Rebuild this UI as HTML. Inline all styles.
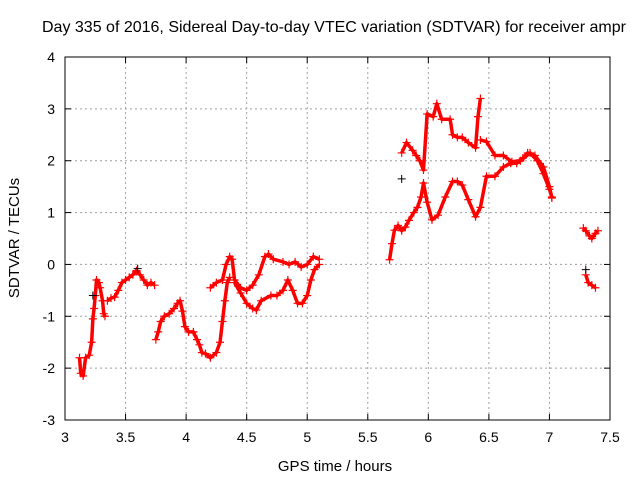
<!DOCTYPE html>
<html><head><meta charset="utf-8"><style>
body{margin:0;background:#fff;}
svg{display:block;font-family:"Liberation Sans",sans-serif;font-size:14px;}
</style></head><body>
<svg id="chart" width="640" height="480">
<text x="42" y="32" font-size="16">Day 335 of 2016, Sidereal Day-to-day VTEC variation (SDTVAR) for receiver ampr</text>
<g id="grid"></g>
<g id="ticks"></g>
<g id="marks"></g>
<rect x="65" y="57" width="545" height="363" fill="none" stroke="#000" stroke-width="1"/>
<text x="335" y="471" text-anchor="middle" font-size="15">GPS time / hours</text>
<text transform="translate(19,238) rotate(-90)" text-anchor="middle" font-size="15">SDTVAR / TECUs</text>
</svg>
<script>
const xTicks=[3,3.5,4,4.5,5,5.5,6,6.5,7,7.5];
const xTickLabels=["3","3.5","4","4.5","5","5.5","6","6.5","7","7.5"];
const yTicks=[-3,-2,-1,0,1,2,3,4];
const yTickLabels=["-3","-2","-1","0","1","2","3","4"];
const t1Hours=[3.12,3.13,3.15,3.17,3.2,3.22,3.23,3.24,3.25,3.26,3.28,3.29,3.31,3.32,3.33];
const t1Vals=[-1.8,-2.1,-2.15,-1.8,-1.75,-1.5,-1.05,-0.85,-0.6,-0.3,-0.35,-0.45,-0.7,-0.95,-1.0];
const t2Hours=[3.35,3.38,3.41,3.44,3.47,3.5,3.53,3.56,3.59,3.62,3.65,3.68,3.71,3.74];
const t2Vals=[-0.7,-0.65,-0.63,-0.5,-0.35,-0.3,-0.25,-0.2,-0.12,-0.2,-0.3,-0.4,-0.35,-0.4];
const t3Hours=[3.75,3.77,3.79,3.82,3.86,3.9,3.93,3.95,3.97,3.99,4.02,4.06,4.09,4.11,4.13,4.16,4.2,4.25,4.28,4.3,4.32,4.34,4.36];
const t3Vals=[-1.45,-1.3,-1.1,-1.0,-0.95,-0.85,-0.75,-0.7,-0.9,-1.2,-1.3,-1.3,-1.45,-1.55,-1.7,-1.72,-1.8,-1.7,-1.5,-1.1,-0.7,-0.35,-0.25];
const t4Hours=[4.2,4.25,4.3,4.33,4.36,4.38,4.4,4.45,4.5,4.55,4.6,4.65,4.68,4.72,4.8,4.85,4.9,4.95,5.0,5.05,5.1];
const t4Vals=[-0.45,-0.35,-0.3,0.0,0.15,0.1,-0.3,-0.45,-0.5,-0.4,-0.2,0.15,0.2,0.1,0.05,0.0,0.05,-0.05,0.0,0.15,0.1];
const t5Hours=[4.4,4.45,4.5,4.55,4.58,4.62,4.7,4.75,4.8,4.84,4.88,4.92,4.96,5.0,5.03,5.06,5.1];
const t5Vals=[-0.35,-0.55,-0.75,-0.85,-0.88,-0.7,-0.6,-0.6,-0.5,-0.3,-0.5,-0.75,-0.75,-0.6,-0.3,-0.1,0.0];
const t6Hours=[5.68,5.7,5.72,5.75,5.78,5.81,5.84,5.88,5.91,5.94,5.96,5.99,6.03,6.08,6.14,6.2,6.24,6.28,6.33,6.39,6.43,6.48,6.55,6.62,6.68,6.73,6.78,6.82,6.88,6.95,7.0,7.02];
const t6Vals=[0.09,0.4,0.66,0.75,0.65,0.72,0.85,1.0,1.1,1.3,1.57,1.2,0.86,0.95,1.3,1.6,1.6,1.53,1.25,0.92,1.1,1.7,1.7,1.88,1.95,1.95,2.05,2.15,2.1,1.88,1.5,1.28];
const t7Hours=[5.78,5.82,5.87,5.9,5.93,5.96,5.99,6.04,6.07,6.11,6.18,6.2,6.24,6.28,6.33,6.39,6.41,6.43];
const t7Vals=[2.15,2.35,2.2,2.1,2.0,1.82,2.9,2.85,3.1,2.8,2.8,2.5,2.45,2.45,2.35,2.25,2.85,3.2];
const t8Hours=[6.43,6.48,6.55,6.62,6.69,6.76,6.84,6.9,6.95,7.0,7.02];
const t8Vals=[2.4,2.37,2.1,2.1,1.98,2.0,2.15,2.0,1.75,1.45,1.3];
const t9Hours=[7.28,7.3,7.33,7.35,7.38,7.4];
const t9Vals=[0.7,0.65,0.55,0.5,0.6,0.65];
const t10Hours=[7.3,7.32,7.35,7.38];
const t10Vals=[-0.2,-0.35,-0.4,-0.45];
const blackHours=[3.23,3.6,5.78,7.3];
const blackVals=[-0.6,-0.08,1.65,-0.1];

const L=65,R=610,T=57,B=420;
const xs=h=>L+(h-3)/4.5*(R-L);
const ys=v=>T+(4-v)/7*(B-T);
const NS="http://www.w3.org/2000/svg";
const grid=document.getElementById('grid'),ticks=document.getElementById('ticks'),marks=document.getElementById('marks');
function mk(tag,attrs,parent){const e=document.createElementNS(NS,tag);for(const k in attrs)e.setAttribute(k,attrs[k]);parent.appendChild(e);return e;}
xTicks.forEach((t,i)=>{const x=xs(t);
 if(i>0&&i<xTicks.length-1){const g=mk('line',{x1:x,x2:x,y1:T,y2:B,stroke:'#a0a0a0','stroke-dasharray':'2,3'},grid);
 
 }
 mk('line',{x1:x,x2:x,y1:B,y2:B-6,stroke:'#000'},ticks);mk('line',{x1:x,x2:x,y1:T,y2:T+6,stroke:'#000'},ticks);
 const tx=mk('text',{x:x,y:B+22,'text-anchor':'middle'},ticks);tx.textContent=xTickLabels[i];
 
 });
yTicks.forEach((t,i)=>{const y=ys(t);
 if(i>0&&i<yTicks.length-1){const g=mk('line',{x1:L,x2:R,y1:y,y2:y,stroke:'#a0a0a0','stroke-dasharray':'2,3'},grid);
 
 }
 mk('line',{x1:L,x2:L+6,y1:y,y2:y,stroke:'#000'},ticks);mk('line',{x1:R,x2:R-6,y1:y,y2:y,stroke:'#000'},ticks);
 const tx=mk('text',{x:L-10,y:y+5,'text-anchor':'end'},ticks);tx.textContent=yTickLabels[i];
 
 });
const tracks=[[t1Hours,t1Vals],[t2Hours,t2Vals],[t3Hours,t3Vals],[t4Hours,t4Vals],[t5Hours,t5Vals],[t6Hours,t6Vals],[t7Hours,t7Vals],[t8Hours,t8Vals],[t9Hours,t9Vals],[t10Hours,t10Vals]];
tracks.forEach(([hs,vs])=>{
 const pl=mk('polyline',{points:hs.map((h,i)=>xs(h)+','+ys(vs[i])).join(' '),fill:'none',stroke:'#f00','stroke-width':3.5,'stroke-linejoin':'round'},marks);
 
 
 hs.forEach((h,i)=>{const x=xs(h),y=ys(vs[i]);
  const p=mk('path',{d:`M${x-4},${y}H${x+4}M${x},${y-4}V${y+4}`,stroke:'#f00','stroke-width':1.2},marks);
  
  });
});
blackHours.forEach((h,i)=>{const x=xs(h),y=ys(blackVals[i]);
 const p=mk('path',{d:`M${x-4},${y}H${x+4}M${x},${y-4}V${y+4}`,stroke:'#000','stroke-width':1},marks);
 
 });
</script>
</body></html>
